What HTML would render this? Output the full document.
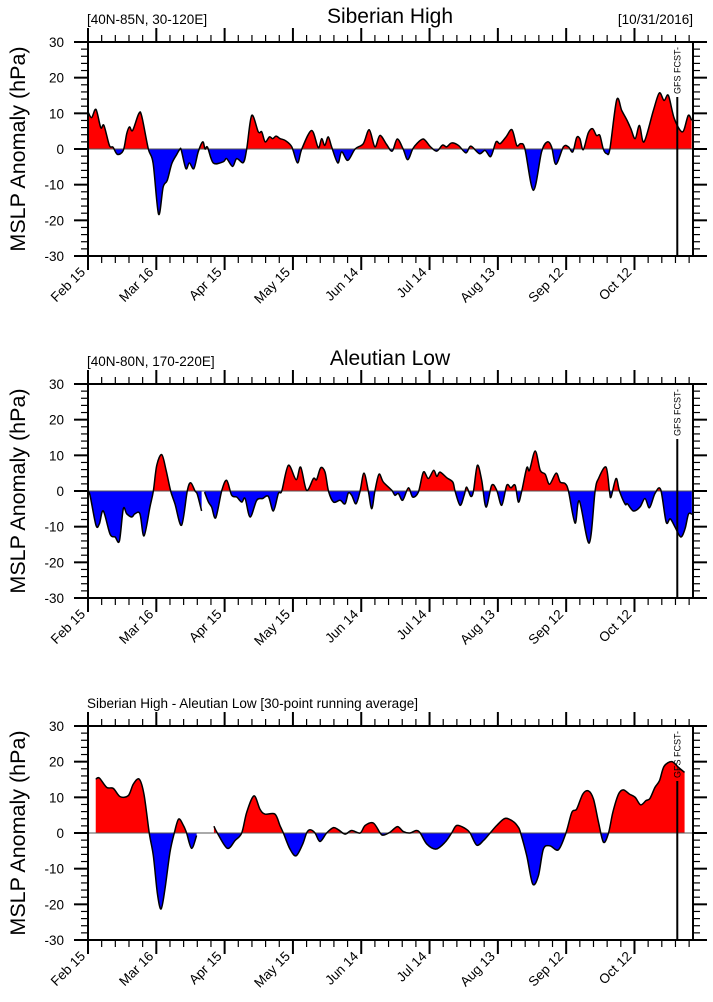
<!DOCTYPE html>
<html><head><meta charset="utf-8"><style>
html,body{margin:0;padding:0;background:#fff;}
svg{display:block;font-family:"Liberation Sans",Arial,sans-serif;}
</style></head><body>
<svg id="chart" width="713" height="1002" viewBox="0 0 713 1002" xmlns="http://www.w3.org/2000/svg"></svg>
<script>
// ---- data (days since Feb 15, anomaly hPa) ----
const xTickLabels = ["Feb 15","Mar 16","Apr 15","May 15","Jun 14","Jul 14","Aug 13","Sep 12","Oct 12"];
const yTickLabels = ["-30","-20","-10","0","10","20","30"];
const sibDays = [0,1.6,3.5,5.6,7,9.4,11,12.9,15.5,17,18.2,19.6,22.3,23.6,26.5,28.6,31,33,34.8,36.8,39,40.4,41,43,44.5,46.5,48.4,50.4,51.4,52.5,55,59.4,60.9,63.5,65.3,68.2,69.7,71.9,74.8,76.3,77.8,79.7,81.1,82.6,84.4,86.6,89.5,92,93.9,98.2,101.1,102.6,104,105.5,107,109.7,111.4,114.1,117.3,120.9,123.5,126,128.2,131.1,133.6,135.8,138.4,140.4,142.6,144.4,147.3,150.3,153.1,155.7,157.5,159.7,162.7,166,168.1,171.9,174.4,176.9,179.2,181,183.6,186.2,188.3,190,191.9,195.6,199.2,201.7,203.6,205.5,208.8,211,212.9,214.6,216,217.5,219.7,221.6,223.3,224.8,226.3,227.8,229.2,232.2,234.4,236.6,238.4,240.3,242.2,244.2,248.3,250.9,253,254.9,257.5,261.1,263.6,265.1];
const sibVals = [10.4,8.8,11.1,6,6.6,1,0.5,-1.5,-0.4,4.3,6.2,5.2,9.9,9.2,0,-4,-18.3,-10.7,-8.8,-4.1,-1.5,0,-0.4,-5.5,-3.9,-5.5,-0.8,2,0,0.5,-3.9,-3.6,-2.7,-4.9,-2.7,-3.8,0,9.4,4.8,4.8,2,3.4,2.9,3.6,2.9,2.4,0.6,-3.9,0,5.2,0.4,2.9,1,3.4,0.6,-3.9,-0.8,-3.2,0,1.5,5.4,0.6,3.8,1.3,-0.6,2.8,0,-3,0,1.5,2.8,0.7,-0.6,1.1,0.6,1.7,1,-1.1,0.8,-1.3,-0.4,-2.1,2,1.5,3.4,5.4,1,1.5,0,-11.6,-0.8,2,0.6,-4.3,0.6,0.6,-0.8,3.2,2.9,-0.2,4.5,5.7,3.8,3.8,0,-1.3,0,13.8,10.8,8.2,5.7,2.9,6.6,2,10.8,15.7,13.6,15,8.5,4.8,9.4,8];
const aleDays = [0,0.9,3.5,5,6.7,9.7,11.9,13.8,15.5,17,19.2,20.6,22.8,24.6,27.2,28.7,30.2,32.4,34.3,36.3,38.2,41.1,43.6,45.1,47,48,49.9,50.3,50.7,51.2,52.9,54.3,56.1,58.7,60.9,63.1,65.3,67.5,69,71.2,74.1,76.7,79.2,81.4,83.6,85.1,88,91.4,93.4,96,99,100.4,102.2,104.1,105.6,107.8,110.7,112.9,114.3,115.8,117.7,119.5,121.2,123.1,124.6,126,127.8,129.7,133.4,134.8,136.3,138.2,140.7,142.6,145.1,147.3,149.5,151.8,153.2,154.6,157.6,160.2,161.2,163.4,165.2,166.3,168.1,169.3,171,172.9,174.8,177.3,179.5,181.7,183.9,185.7,187.6,189,190.5,192.7,193.9,196.4,198.6,200.8,202.7,205.6,207.4,209.5,211,213.9,215.8,220.1,222.7,224.2,227.5,229,229.7,231.9,233.4,235.9,236.9,239.5,242.4,244.6,246.6,249,251.5,253.9,255.7,257.8,260.3,262.2,263.7,265.2];
const aleVals = [0,-1.2,-9.6,-9.2,-5.6,-12.1,-12.9,-14,-5,-6.4,-7.3,-6.4,-6.4,-12.6,-4.5,0,7.2,10.2,5.8,0,-3.6,-9.6,0,2.3,0,-0.9,-5.6,null,null,-0.3,-3.1,-4.5,-7.5,0,3,-1.2,-1.7,-3.1,-2.1,-7.3,-2.6,-2.1,-1.5,-5.6,-0.7,0,7.2,3.2,6.7,0.2,3.5,3.2,6.5,5.3,0,-3.1,-2.6,-3.6,-0.6,-1.2,-3.6,0,5,0,-5,0,4.7,2.5,0.2,-1.2,-0.7,-2.6,0.9,-1.7,-0.3,5.3,3.5,5.8,4.1,5.3,3.7,2.5,0,-4,-1.2,1.1,-1.5,0,7.2,3,-4.5,1.6,0.2,-4,1.6,0.9,1.6,-3.1,0,6.5,5.8,11.2,5.8,4.7,1.9,5,2.5,2.1,0,-9,-2.8,-14.6,0,3.5,6.7,0,-1.7,3.5,0,-3.7,-3.6,-5.6,-4.5,-2.1,-4.7,-0.7,0.4,-8.7,-7.8,-10.1,-12.9,-10.6,-6.5,-6.5];
const diffDays = [3.4,5,8.2,11.1,14.1,17.7,19.9,22.5,24.6,26.9,28.7,30.5,32.1,33.8,36,37.9,39.8,41.9,43.3,45.5,47.7,50,55.3,56.8,61.2,64.6,67.5,69.7,72.9,75.5,77.7,82.1,84.3,85.8,88.7,91.4,94.3,96,97.5,99.7,101.9,104.8,107.8,110,112.9,115.8,119.5,121.7,125.3,128.3,129.7,132.6,135.9,138.5,141.4,144.1,145.9,148.8,152.9,156.8,159.7,161.9,165.6,167.8,170.7,173.7,176.6,179.5,183.2,186.8,189,190,192.7,195.3,197.8,200,202.9,206.6,209.9,212.5,214.6,217.3,219.8,222,224.2,226.4,228.6,230.5,233,235.1,237.8,240.3,242.7,245.1,246.8,249,251,253,256.4,259.3,262];
const diffVals = [15.1,15.4,12.8,12.5,10.2,10.5,13.7,15.1,10.8,0,-6.4,-17.1,-21.3,-15.7,-5.4,0,3.9,2.1,0,-4.3,-0.7,null,1.9,0,-4.3,-2.1,0,5.8,10.4,6.7,5.3,5.3,2.1,0,-4.5,-6.4,-3.1,0,0.9,0,-2.4,0,1.5,0.9,-0.3,0.7,0,2.1,2.8,0,-0.6,0.2,1.8,0.4,0,0.7,0,-3.1,-4.5,-2.6,0,2.1,1.3,0,-3.4,-2.1,0,2.1,4.1,3.2,1.6,0,-6.4,-14.3,-12,-4.5,-3.6,-4.7,0,5.8,6.7,10.9,11.8,9.5,3,-2.6,0,5.8,10.9,12.1,10.9,10,7.9,9.1,9.7,12.8,14.7,18.7,20,18.4,17];

// ---- layout ----
const NS = "http://www.w3.org/2000/svg";
const svg = document.getElementById('chart');
const X0 = 88, X1 = 693, DMAX = 265.7, PH = 214;
const FCST_DAY = 258.8;
function xs(d){ return X0 + d * (X1 - X0) / DMAX; }
function mk(tag, attrs, parent){
  const e = document.createElementNS(NS, tag);
  for (const k in attrs) e.setAttribute(k, attrs[k]);
  (parent || svg).appendChild(e);
  return e;
}
function segments(days, vals){
  const segs = []; let cur = [];
  for (let i = 0; i < days.length; i++){
    if (vals[i] === null){ if (cur.length) segs.push(cur); cur = []; }
    else cur.push([days[i], vals[i]]);
  }
  if (cur.length) segs.push(cur);
  return segs;
}
// smooth path through pixel points (catmull-rom -> bezier), no leading M
function smooth(pts){
  let d = '';
  for (let i = 0; i < pts.length - 1; i++){
    const p0 = pts[Math.max(0, i - 1)], p1 = pts[i], p2 = pts[i + 1], p3 = pts[Math.min(pts.length - 1, i + 2)];
    const t = 0.16;
    let c1x = p1[0] + (p2[0] - p0[0]) * t, c1y = p1[1] + (p2[1] - p0[1]) * t;
    let c2x = p2[0] - (p3[0] - p1[0]) * t, c2y = p2[1] - (p3[1] - p1[1]) * t;
    c1x = Math.min(Math.max(c1x, p1[0]), p2[0]); c2x = Math.min(Math.max(c2x, p1[0]), p2[0]);
    d += 'C' + c1x.toFixed(2) + ',' + c1y.toFixed(2) + ' ' + c2x.toFixed(2) + ',' + c2y.toFixed(2) + ' ' + p2[0].toFixed(2) + ',' + p2[1].toFixed(2);
  }
  return d;
}
function panel(idx, top, days, vals, leftText, title, rightText){
  const g = mk('g', {});
  
  
  const ys = v => top + PH / 2 - v * PH / 60;
  const bottom = top + PH;
  const defs = mk('defs', {}, g);
  const cpA = mk('clipPath', {id: 'above' + idx}, defs);
  mk('rect', {x: X0, y: top, width: X1 - X0, height: PH / 2}, cpA);
  const cpB = mk('clipPath', {id: 'below' + idx}, defs);
  mk('rect', {x: X0, y: top + PH / 2, width: X1 - X0, height: PH / 2}, cpB);
  const segs = segments(days, vals);
  segs.forEach(s => {
    const pts = s.map(p => [xs(p[0]), ys(p[1])]);
    const line = 'M' + pts[0][0].toFixed(2) + ',' + pts[0][1].toFixed(2) + smooth(pts);
    const area = 'M' + pts[0][0].toFixed(2) + ',' + ys(0) + 'L' + pts[0][0].toFixed(2) + ',' + pts[0][1].toFixed(2) + smooth(pts) + 'L' + pts[pts.length - 1][0].toFixed(2) + ',' + ys(0) + 'Z';
    const pos = mk('path', {d: area, fill: '#ff0000', 'clip-path': 'url(#above' + idx + ')'}, g);
    
    
    const neg = mk('path', {d: area, fill: '#0000ff', 'clip-path': 'url(#below' + idx + ')'}, g);
    
    
    s.line = line;
  });
  const zl = mk('line', {x1: X0, x2: X1, y1: ys(0), y2: ys(0), stroke: '#555', 'stroke-width': 1}, g);
  
  
  segs.forEach(s => {
    const ln = mk('path', {d: s.line, fill: 'none', stroke: '#000', 'stroke-width': 1.5, 'stroke-linejoin': 'round'}, g);
    
    
  });
  const fr = mk('rect', {x: X0, y: top, width: X1 - X0, height: PH, fill: 'none', stroke: '#000', 'stroke-width': 2}, g);
  
  
  for (let d = 0; d <= DMAX; d += 6){
    const major = d % 30 === 0;
    const L = major ? 14 : 7, x = xs(d);
    mk('line', {x1: x, x2: x, y1: top, y2: top - L, stroke: '#000', 'stroke-width': major ? 2 : 1.2}, g);
    mk('line', {x1: x, x2: x, y1: bottom, y2: bottom + L, stroke: '#000', 'stroke-width': major ? 2 : 1.2}, g);
  }
  xTickLabels.forEach((lab, i) => {
    const x = xs(i * 30) - 2, y = bottom + 17;
    const t = mk('text', {x: x, y: y, 'font-size': 13.5, 'text-anchor': 'end', transform: 'rotate(-45 ' + x + ' ' + y + ')'}, g);
    t.textContent = lab;
    
    
  });
  for (let v = -30; v <= 30; v += 2){
    const major = v % 10 === 0;
    const L = major ? 14 : 7, y = ys(v);
    mk('line', {x1: X0, x2: X0 - L, y1: y, y2: y, stroke: '#000', 'stroke-width': major ? 2 : 1.2}, g);
    mk('line', {x1: X1, x2: X1 + L, y1: y, y2: y, stroke: '#000', 'stroke-width': major ? 2 : 1.2}, g);
  }
  yTickLabels.forEach((lab, i) => {
    const t = mk('text', {x: 64, y: ys(-30 + i * 10) + 5, 'font-size': 13.5, 'text-anchor': 'end'}, g);
    t.textContent = lab;
    
    
  });
  const cy = top + PH / 2;
  const yt = mk('text', {x: 25, y: cy, 'font-size': 21.5, 'text-anchor': 'middle', transform: 'rotate(-90 25 ' + cy + ')'}, g);
  yt.textContent = 'MSLP Anomaly (hPa)';
  
  
  const fx = xs(FCST_DAY);
  const fl = mk('line', {x1: fx, x2: fx, y1: top + 55, y2: bottom, stroke: '#000', 'stroke-width': 2}, g);
  
  
  const ft = mk('text', {x: fx + 3, y: top + 52, 'font-size': 9, 'text-anchor': 'start', transform: 'rotate(-90 ' + (fx + 3) + ' ' + (top + 52) + ')'}, g);
  ft.textContent = 'GFS FCST-';
  
  
  if (leftText){
    const lt = mk('text', {x: 87, y: top - 18, 'font-size': 13.5}, g);
    lt.textContent = leftText;
    
    
  }
  if (title){
    const tt = mk('text', {x: 390, y: top - 19, 'font-size': 21, 'text-anchor': 'middle'}, g);
    tt.textContent = title;
    
    
  }
  if (rightText){
    const rt = mk('text', {x: 693, y: top - 18, 'font-size': 13.5, 'text-anchor': 'end'}, g);
    rt.textContent = rightText;
    
    
  }
}
panel(0, 42, sibDays, sibVals, '[40N-85N, 30-120E]', 'Siberian High', '[10/31/2016]');
panel(1, 384, aleDays, aleVals, '[40N-80N, 170-220E]', 'Aleutian Low', '');
panel(2, 726, diffDays, diffVals, 'Siberian High - Aleutian Low [30-point running average]', '', '');
</script>
</body></html>
